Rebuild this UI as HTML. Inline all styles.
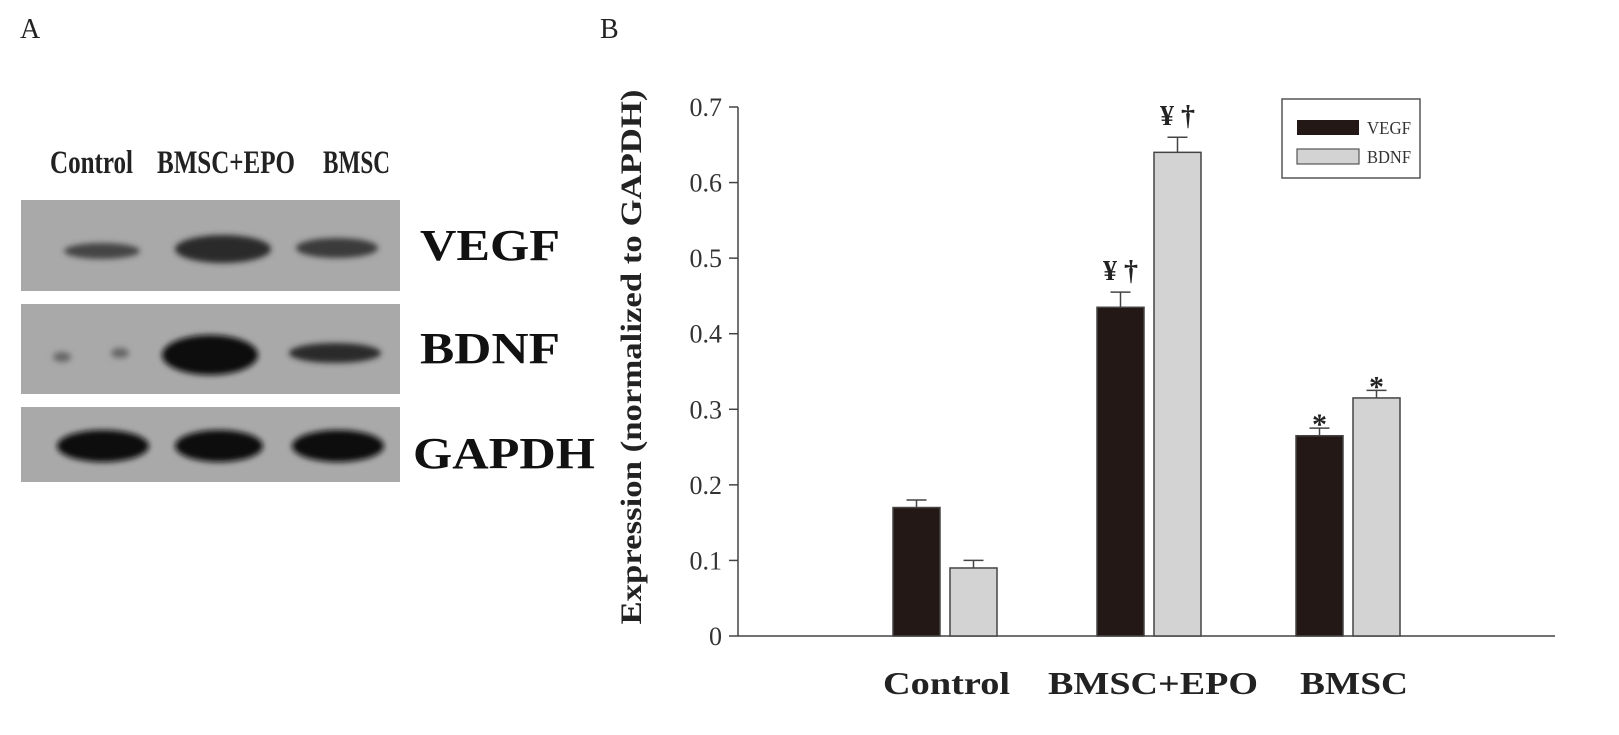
<!DOCTYPE html>
<html><head><meta charset="utf-8"><style>
body{margin:0;background:#fff;width:1619px;height:730px;overflow:hidden;font-family:"Liberation Serif",serif}
</style></head><body>
<svg width="1619" height="730" xmlns="http://www.w3.org/2000/svg">
<defs>
<filter id="blur" x="-20%" y="-50%" width="140%" height="200%"><feGaussianBlur stdDeviation="3"/></filter>
</defs>
<text x="20" y="38" font-size="28" fill="#222">A</text>
<text x="600" y="38" font-size="28" fill="#222">B</text>
<g font-weight="bold">
<g font-size="33" fill="#222">
<text x="50" y="173" textLength="83" lengthAdjust="spacingAndGlyphs">Control</text>
<text x="157" y="173" textLength="138" lengthAdjust="spacingAndGlyphs">BMSC+EPO</text>
<text x="323" y="173" textLength="67" lengthAdjust="spacingAndGlyphs">BMSC</text>
</g>
<rect x="21" y="200" width="379" height="91" fill="#a9a9a9"/>
<rect x="21" y="304" width="379" height="90" fill="#a9a9a9"/>
<rect x="21" y="407" width="379" height="75" fill="#a9a9a9"/>
<g filter="url(#blur)" fill="#2a2a2a">
<ellipse cx="102" cy="251" rx="38" ry="8" fill="#444"/>
<ellipse cx="223" cy="249" rx="48" ry="14"/>
<ellipse cx="337" cy="248" rx="41" ry="10" fill="#3a3a3a"/>
<ellipse cx="62" cy="357" rx="9" ry="5" fill="#666"/>
<ellipse cx="120" cy="353" rx="9" ry="5" fill="#666"/>
<ellipse cx="210" cy="355" rx="48" ry="20" fill="#111"/>
<ellipse cx="335" cy="353" rx="46" ry="10"/>
<ellipse cx="103" cy="446" rx="46" ry="16" fill="#111"/>
<ellipse cx="219" cy="446" rx="44" ry="16" fill="#111"/>
<ellipse cx="338" cy="446" rx="46" ry="16" fill="#111"/>
</g>
<g font-size="44" fill="#111">
<text x="420" y="260" textLength="140" lengthAdjust="spacingAndGlyphs">VEGF</text>
<text x="420" y="363" textLength="140" lengthAdjust="spacingAndGlyphs">BDNF</text>
<text x="413" y="468" textLength="182" lengthAdjust="spacingAndGlyphs">GAPDH</text>
</g>
</g>
<g id="chart"></g>
</svg>
<script>
const categories=["Control","BMSC+EPO","BMSC"];
const vegfValues=[0.17,0.435,0.265];
const vegfErrors=[0.01,0.02,0.01];
const bdnfValues=[0.09,0.64,0.315];
const bdnfErrors=[0.01,0.02,0.01];
const yTicks=[0,0.1,0.2,0.3,0.4,0.5,0.6,0.7];
const vegfMarks=["","¥ †","*"];
const bdnfMarks=["","¥ †","*"];
const NS="http://www.w3.org/2000/svg";
const g=document.getElementById('chart');
const y0=636,yTop=107,axisX=738,axisEnd=1555;
const y=v=>y0-(v/0.7)*(y0-yTop);
const groupStart=[893,1097,1296];
const labelSpan=[[883,1010],[1048,1258],[1300,1408]];
const barW=47,gap=10;
function el(t,a,p){const e=document.createElementNS(NS,t);for(const k in a)e.setAttribute(k,a[k]);(p||g).appendChild(e);return e;}
let e=el('line',{x1:axisX,y1:yTop,x2:axisX,y2:y0,stroke:'#444','stroke-width':1.5});


e=el('line',{x1:axisX,y1:y0,x2:axisEnd,y2:y0,stroke:'#444','stroke-width':1.5});


yTicks.forEach(t=>{
 const yy=y(t);
 el('line',{x1:axisX-9,y1:yy,x2:axisX,y2:yy,stroke:'#444','stroke-width':1.5});
 const tx=el('text',{x:axisX-16,y:yy+9,'font-size':26,'text-anchor':'end',fill:'#333'});
 tx.textContent=String(t);
 
 
});
e=el('text',{x:0,y:0,'font-size':30,'font-weight':'bold','text-anchor':'middle',fill:'#222',textLength:535,lengthAdjust:'spacingAndGlyphs',transform:`translate(641,357) rotate(-90)`});
e.textContent='Expression (normalized to GAPDH)';


function bar(x,v,err,fill,name,mark){
 const r=el('rect',{x:x,y:y(v),width:barW,height:y0-y(v),fill:fill,stroke:'#444','stroke-width':1.5});
 
 
 const cx=x+barW/2,ye=y(v+err);
 el('line',{x1:cx,y1:y(v),x2:cx,y2:ye,stroke:'#444','stroke-width':1.5});
 el('line',{x1:cx-10,y1:ye,x2:cx+10,y2:ye,stroke:'#444','stroke-width':1.5});
 if(mark){const t=el('text',{x:cx,y:ye-(mark==='*'?-6:12),'font-size':mark==='*'?30:28,'font-weight':'bold','text-anchor':'middle',fill:'#222'});t.textContent=mark;
 
 }
}
categories.forEach((c,i)=>{
 const x=groupStart[i];
 bar(x,vegfValues[i],vegfErrors[i],'#231816','bar-vegf-'+i,vegfMarks[i]);
 bar(x+barW+gap,bdnfValues[i],bdnfErrors[i],'#d3d3d3','bar-bdnf-'+i,bdnfMarks[i]);
 const s=labelSpan[i];
 const t=el('text',{x:s[0],y:694,'font-size':32,'font-weight':'bold',fill:'#222',textLength:s[1]-s[0],lengthAdjust:'spacingAndGlyphs'});
 t.textContent=c;
 
 
});
const lg=el('g',{});


el('rect',{x:1282,y:99,width:138,height:79,fill:'#fff',stroke:'#555','stroke-width':1.5},lg);
el('rect',{x:1297,y:120,width:62,height:15,fill:'#231816'},lg);
el('rect',{x:1297,y:149,width:62,height:15,fill:'#d3d3d3',stroke:'#555','stroke-width':1.2},lg);
let t1=el('text',{x:1367,y:134,'font-size':18,fill:'#333',textLength:44,lengthAdjust:'spacingAndGlyphs'},lg);t1.textContent='VEGF';


let t2=el('text',{x:1367,y:163,'font-size':18,fill:'#333',textLength:44,lengthAdjust:'spacingAndGlyphs'},lg);t2.textContent='BDNF';


</script>
</body></html>
